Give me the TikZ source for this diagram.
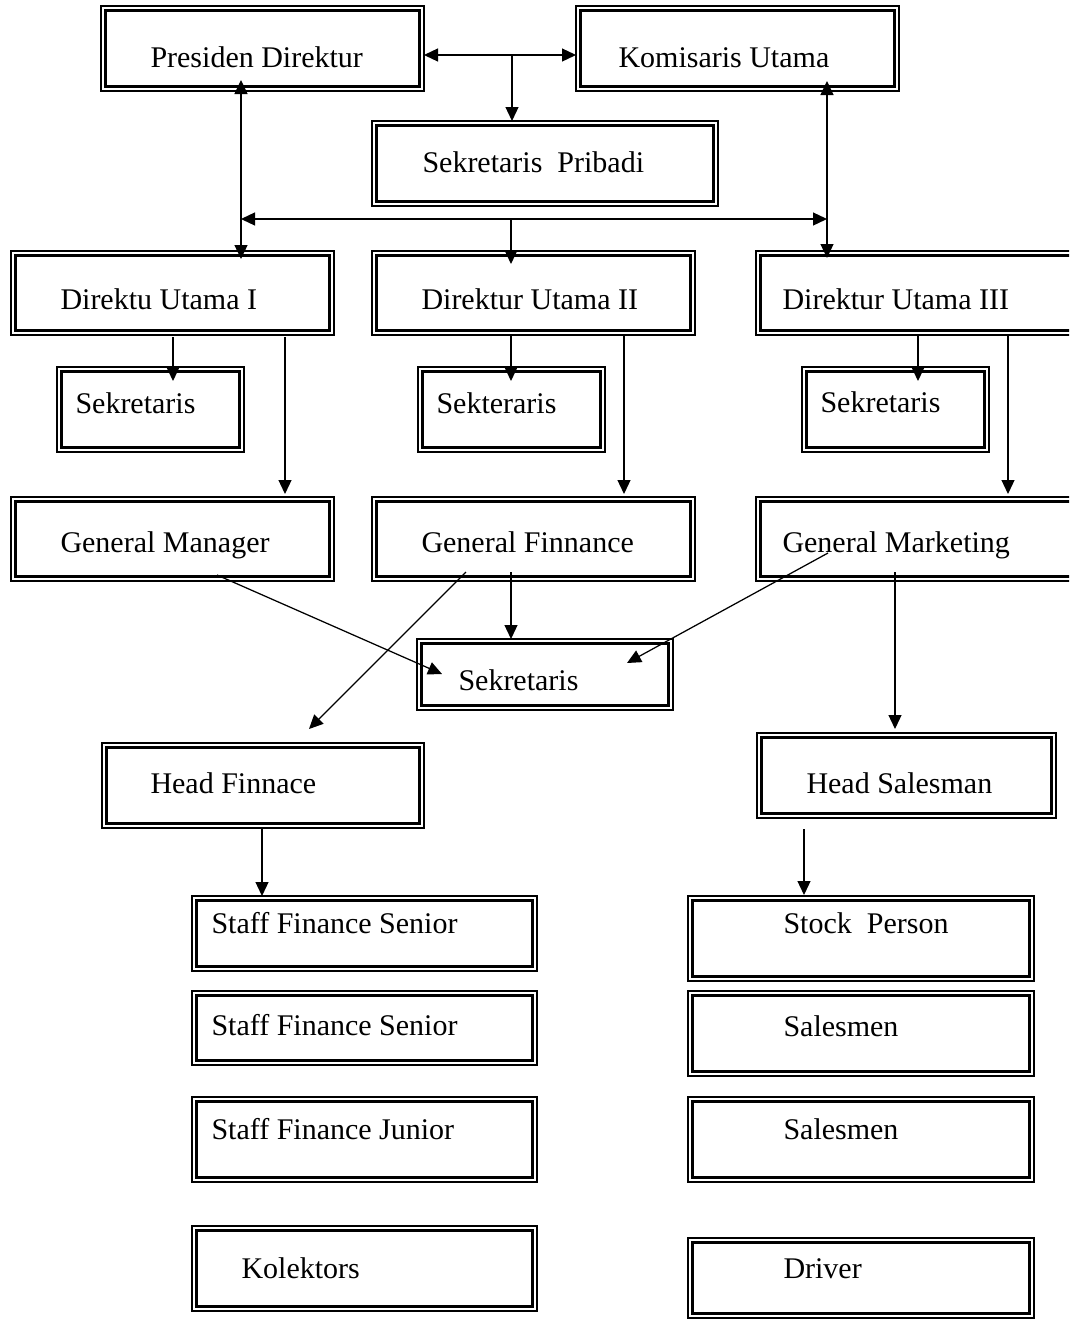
\documentclass[tikz,border=0pt]{standalone}
\usepackage{fontspec}
\setmainfont{Liberation Serif}
\usetikzlibrary{arrows.meta,calc}
\tikzset{
  box/.style={draw, line width=0.45pt, inner sep=0pt, outer sep=0pt},
  innerbox/.style={line width=0.9pt},
  lbl/.style={anchor=base west, inner sep=0pt, font=\fontsize{12pt}{14pt}\selectfont},
  arr/.style={line width=0.5pt, -{Triangle[length=5.6pt,width=5.2pt]}},
  arrtwo/.style={line width=0.5pt, {Triangle[length=5.6pt,width=5.2pt]}-{Triangle[length=5.6pt,width=5.2pt]}}
}
\newcommand\bx[5]{%
  \node[box, minimum width={(#4-#2)*0.4pt}, minimum height={(#5-#3)*0.4pt}] (#1) at ({(#2+#4)/2},{(#3+#5)/2}) {};
  \draw[innerbox] ([shift={(1.8pt,-1.8pt)}]#1.north west) rectangle ([shift={(-1.8pt,1.8pt)}]#1.south east);}
\begin{document}
\begin{tikzpicture}[x=0.4pt,y=-0.4pt]
\clip (0,0) rectangle (1069,1320);
\fill[white] (0,0) rectangle (1069,1320);
% boxes
\bx{pd}{101}{6}{424}{91}
\bx{ku}{576}{6}{899}{91}
\bx{sp}{372}{121}{718}{206}
\bx{du1}{11}{251}{334}{335}
\bx{du2}{372}{251}{695}{335}
\bx{du3}{756}{251}{1090}{335}
\bx{s1}{57}{367}{244}{452}
\bx{s2}{418}{367}{605}{452}
\bx{s3}{802}{367}{989}{452}
\bx{gm}{11}{497}{334}{581}
\bx{gf}{372}{497}{695}{581}
\bx{gmk}{756}{497}{1090}{581}
\bx{sekb}{417}{639}{673}{710}
\bx{hf}{102}{743}{424}{828}
\bx{hs}{757}{733}{1056}{818}
\bx{sf1}{192}{896}{537}{971}
\bx{sf2}{192}{991}{537}{1065}
\bx{sfj}{192}{1097}{537}{1182}
\bx{kol}{192}{1226}{537}{1311}
\bx{stp}{688}{896}{1034}{981}
\bx{sal1}{688}{991}{1034}{1076}
\bx{sal2}{688}{1097}{1034}{1182}
\bx{drv}{688}{1238}{1034}{1318}
% labels
\node[lbl] (pdt) at (150,67) {Presiden Direktur};
\node[lbl] (kut) at (618,67) {Komisaris Utama};
\node[lbl] (spt) at (422,172) {Sekretaris\ \ Pribadi};
\node[lbl] (du1t) at (60,309) {Direktu Utama I};
\node[lbl] (du2t) at (421,309) {Direktur Utama II};
\node[lbl] (du3t) at (782,309) {Direktur Utama III};
\node[lbl] (s1t) at (75,413) {Sekretaris};
\node[lbl] (s2t) at (436,413) {Sekteraris};
\node[lbl] (s3t) at (820,412) {Sekretaris};
\node[lbl] (gmt) at (60,552) {General Manager};
\node[lbl] (gft) at (421,552) {General Finnance};
\node[lbl] (gmkt) at (782,552) {General Marketing};
\node[lbl] (sekbt) at (458,690) {Sekretaris};
\node[lbl] (hft) at (150,793) {Head Finnace};
\node[lbl] (hst) at (806,793) {Head Salesman};
\node[lbl] (sf1t) at (211,933) {Staff Finance Senior};
\node[lbl] (sf2t) at (211,1035) {Staff Finance Senior};
\node[lbl] (sfjt) at (211,1139) {Staff Finance Junior};
\node[lbl] (kolt) at (241,1278) {Kolektors};
\node[lbl] (stpt) at (783,933) {Stock\ \ Person};
\node[lbl] (sal1t) at (783,1036) {Salesmen};
\node[lbl] (sal2t) at (783,1139) {Salesmen};
\node[lbl] (drvt) at (783,1278) {Driver};
% helper coordinates
\coordinate (hy) at (0,55);
\coordinate (m1) at (512,55);
\coordinate (bl) at (241,219);
\coordinate (br) at (827,219);
\coordinate (bm) at (511,219);
\coordinate (xa) at (173,0);
\coordinate (xb) at (285,0);
\coordinate (xc) at (511,0);
\coordinate (xd) at (624,0);
\coordinate (xe) at (918,0);
\coordinate (xf) at (1008,0);
\coordinate (xg) at (895,0);
\coordinate (xh) at (262,0);
\coordinate (xi) at (804,0);
% connectors
\draw[arrtwo] (pd.east |- hy) -- (ku.west |- hy);
\draw[arr] (m1) -- (m1 |- sp.north);
\draw[arrtwo] (bl) -- (br);
\draw[arrtwo] ($(bl |- pd.south)+(0,-11)$) -- ($(bl |- du1.north)+(0,8)$);
\draw[arrtwo] ($(br |- ku.south)+(0,-10)$) -- ($(br |- du3.north)+(0,7)$);
\draw[arr] (bm) -- ($(bm |- du2.north)+(0,13)$);
\draw[arr] ($(xa |- du1.south)+(0,2)$) -- ($(xa |- s1.north)+(0,14)$);
\draw[arr] ($(xb |- du1.south)+(0,2)$) -- ($(xb |- gm.north)+(0,-3)$);
\draw[arr] ($(xc |- du2.south)+(0,1)$) -- ($(xc |- s2.north)+(0,14)$);
\draw[arr] ($(xd |- du2.south)+(0,1)$) -- ($(xd |- gf.north)+(0,-3)$);
\draw[arr] ($(xe |- du3.south)+(0,1)$) -- ($(xe |- s3.north)+(0,14)$);
\draw[arr] ($(xf |- du3.south)+(0,1)$) -- ($(xf |- gmk.north)+(0,-3)$);
\draw[arr] ($(gm.south west)+(206,-6)$) -- ($(sekb.north west)+(25,35)$);
\draw[arr] ($(gf.south west)+(94,-9)$) -- ($(hf.north west)+(207,-14)$);
\draw[arr] ($(xc |- gf.south)+(0,-9)$) -- (xc |- sekb.north);
\draw[arr] ($(gmk.south west)+(72,-28)$) -- ($(sekb.north east)+(-46,24)$);
\draw[arr] ($(xg |- gmk.south)+(0,-9)$) -- ($(xg |- hs.north)+(0,-4)$);
\draw[arr] (xh |- hf.south) -- (xh |- sf1.north);
\draw[arr] ($(xi |- hs.south)+(0,11)$) -- ($(xi |- stp.north)+(0,-1)$);
\end{tikzpicture}
\end{document}
